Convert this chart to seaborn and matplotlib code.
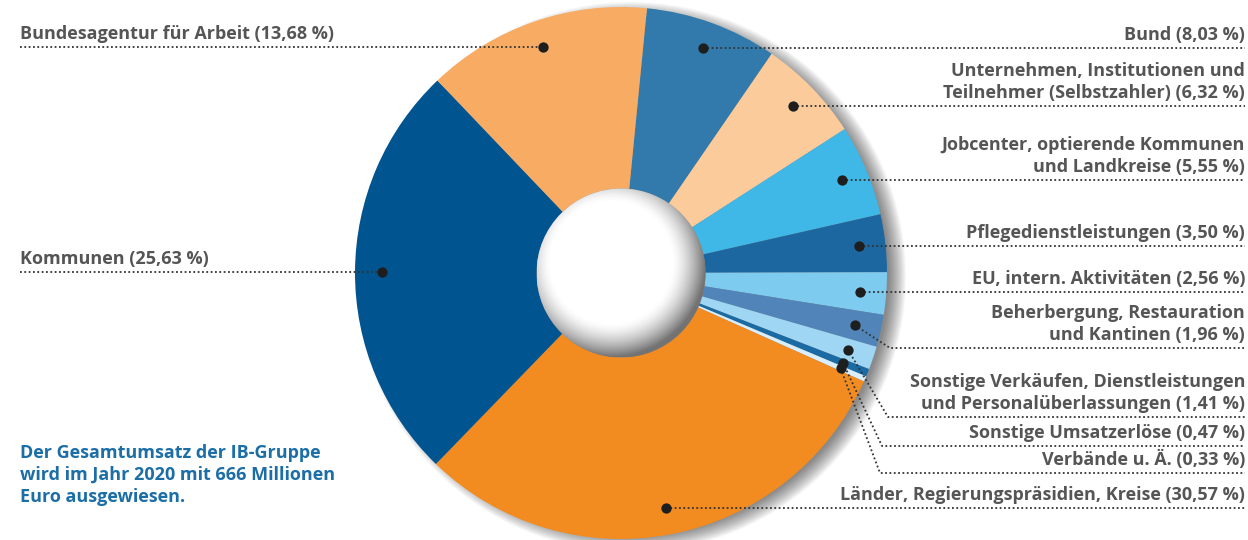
import matplotlib
matplotlib.use("Agg")
import matplotlib.pyplot as plt
from matplotlib.patches import Circle
import numpy as np
import pandas as pd
import seaborn as sns

# data
labels = [
    "Bund (8,03 %)",
    "Unternehmen, Institutionen und\nTeilnehmer (Selbstzahler) (6,32 %)",
    "Jobcenter, optierende Kommunen\nund Landkreise (5,55 %)",
    "Pflegedienstleistungen (3,50 %)",
    "EU, intern. Aktivitäten (2,56 %)",
    "Beherbergung, Restauration\nund Kantinen (1,96 %)",
    "Sonstige Verkäufen, Dienstleistungen\nund Personalüberlassungen (1,41 %)",
    "Sonstige Umsatzerlöse (0,47 %)",
    "Verbände u. Ä. (0,33 %)",
    "Länder, Regierungspräsidien, Kreise (30,57 %)",
    "Kommunen (25,63 %)",
    "Bundesagentur für Arbeit (13,68 %)",
]
shares = [8.03, 6.32, 5.55, 3.50, 2.56, 1.96, 1.41, 0.47, 0.33, 30.57, 25.63, 13.68]
colors = ["#317aab", "#fbcb9b", "#3fb8e8", "#1d67a0", "#7ecbf0", "#5185ba",
          "#9ed6f3", "#1a6aa3", "#d8eefa", "#f28b20", "#005591", "#f7ab63"]
side = ["r", "r", "r", "r", "r", "r", "r", "r", "r", "r", "l", "l"]
# leader lines that bend: y of the underline (pixels from top), x of the bend
bend_y = [None, None, None, None, None, 348, 417, 446, 473, None, None, None]
bend_x = [None, None, None, None, None, 890, 888, 882, 880, None, None, None]
note = "Der Gesamtumsatz der IB-Gruppe\nwird im Jahr 2020 mit 666 Millionen\nEuro ausgewiesen."

W, H = 1248, 540
cx, cy, R, r_hole = 621, H - 273, 266, 84.5

sns.set_theme(style="white")
plt.rcParams["font.family"] = ["Open Sans", "DejaVu Sans"]

fig = plt.figure(figsize=(W / 100, H / 100), dpi=100)
ax = fig.add_axes([0, 0, 1, 1])

# soft shadow behind the ring, mostly to the right
for i in range(18):
    ax.add_patch(Circle((cx + 10, cy - 4), R + 9 - i, color="black", alpha=0.03, lw=0, zorder=0))

wedges, _ = ax.pie(shares, colors=colors, startangle=84.4, counterclock=False,
                   radius=R, center=(cx, cy),
                   wedgeprops=dict(width=R - r_hole, linewidth=0))
for w in wedges:
    w.set_zorder(1)

# shaded hole
n = 300
u = np.linspace(-1, 1, n)
uu, vv = np.meshgrid(u, u)
d = np.hypot(uu + 0.12, vv - 0.12)
shade = np.clip((d - 0.72) / 0.4, 0, 1) ** 1.5
img = 1 - 0.55 * shade
hole = Circle((cx, cy), r_hole, transform=ax.transData)
im = ax.imshow(img, cmap="gray", vmin=0, vmax=1, origin="lower",
               extent=(cx - r_hole, cx + r_hole, cy - r_hole, cy + r_hole), zorder=2)
im.set_clip_path(hole)

# anchor dots at the middle of each wedge
pts = []
for w in wedges:
    th = np.deg2rad((w.theta1 + w.theta2) / 2)
    pts.append((cx + 0.9 * R * np.cos(th), cy + 0.9 * R * np.sin(th)))
dots = pd.DataFrame(pts, columns=["x", "y"])
sns.scatterplot(data=dots, x="x", y="y", color="#1e1e1e", s=55, linewidth=0, ax=ax, zorder=5)

txt_col = "#555555"
fs = 13
for lab, (px, py), s, by, bx in zip(labels, pts, side, bend_y, bend_x):
    if by is None:
        ly = py
        xs, ys = [px], [py]
    else:
        ly = H - by
        xs, ys = [px, bx], [py, ly]
    if s == "r":
        xs.append(1245)
        ys.append(ly)
        ax.text(1245, ly + 4, lab, ha="right", va="bottom", fontsize=fs,
                fontweight="bold", color=txt_col, linespacing=1.3, zorder=6)
    else:
        xs.insert(0, 20)
        ys.insert(0, ly)
        ax.text(20, ly + 4, lab, ha="left", va="bottom", fontsize=fs,
                fontweight="bold", color=txt_col, linespacing=1.3, zorder=6)
    ax.plot(xs, ys, color="#333333", lw=1.3, ls=(0, (1, 1.4)), zorder=4)

ax.text(20, H - 444, note, ha="left", va="top", fontsize=fs, fontweight="bold",
        color="#1b6ea6", linespacing=1.3)

ax.set_xlim(0, W)
ax.set_ylim(0, H)
ax.set_aspect("equal")
ax.axis("off")

fig.savefig("out.png", dpi=100)
